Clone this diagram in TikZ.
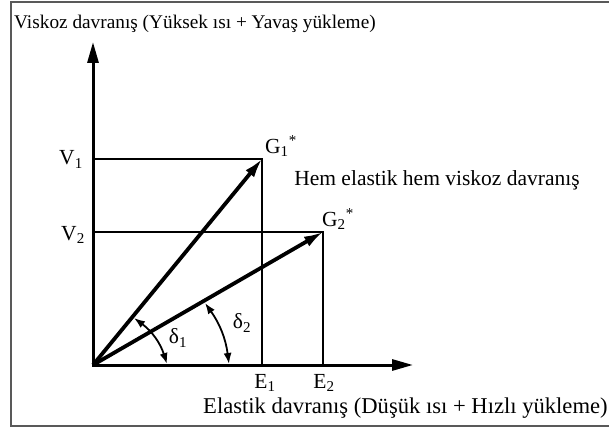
\documentclass[tikz,border=0pt]{standalone}
\usepackage{fontspec}
\setmainfont{Liberation Serif}
\usetikzlibrary{arrows.meta,positioning}

\begin{document}
\begin{tikzpicture}[x=1pt, y=-1pt, every node/.style={inner sep=0pt},
        font=\fontsize{21.5}{24}\selectfont]
        \tikzset{
            frame/.style={draw=black!65, line width=1.8pt},
            axis/.style={-{Triangle[length=21pt,width=11pt]}, line width=3pt},
            vec/.style={-{Latex[length=20pt,width=11pt]}, line width=3.8pt, shorten >=-1pt},
            guide/.style={line width=2.6pt},
            angarr/.style={{Latex[length=11pt,width=8pt]}-{Latex[length=11pt,width=8pt]}, line width=1.8pt}
        }
        \useasboundingbox (0,0) rectangle (609,430);
        \draw[frame] (11,2) rectangle (613,426);

        % Points
        \coordinate (O) at (93,365);
        \coordinate (ytop) at (93,42);
        \coordinate (xend) at (413,365);
        \coordinate (G1) at (262,159);
        \coordinate (G2) at (323,232);
        \coordinate (V1) at (93,159);
        \coordinate (V2) at (93,232);
        \coordinate (E1) at (262,365);
        \coordinate (E2) at (323,365);

        % Axes
        \draw[axis] (O) -- (ytop);
        \draw[axis] ([xshift=-1pt]O) -- (xend);

        % Component lines
        \draw[guide] (V1) -- (G1) -- (E1);
        \draw[guide] (V2) -- (G2) -- (E2);

        % Vectors
        \draw[vec] (O) -- (G1);
        \draw[vec] (O) -- (G2);

        % Angles
        \coordinate (d1a) at (167,364);
        \coordinate (d1b) at (134,318);
        \coordinate (d2a) at (229,364);
        \coordinate (d2b) at (205,303);
        \draw[angarr] (d1a) to[bend right=18] (d1b);
        \draw[angarr] (d2a) to[bend right=14] (d2b);

        % Labels
        \node[anchor=base west, font=\fontsize{19.3}{22}\selectfont] (ttop) at (14,29) {Viskoz davranış (Yüksek ısı + Yavaş yükleme)};
        \node[anchor=base west, font=\fontsize{22.6}{25}\selectfont] (tbot) at (203,413) {Elastik davranış (Düşük ısı + Hızlı yükleme)};
        \node (both) at (437,180) {Hem elastik hem viskoz davranış};
        \node[anchor=base east] (lv1) at (83,165) {V\textsubscript{1}};
        \node[anchor=base east] (lv2) at (85,240) {V\textsubscript{2}};
        \node[anchor=base] (le1) at (265,388) {E\textsubscript{1}};
        \node[anchor=base] (le2) at (324,388) {E\textsubscript{2}};
        \node (lg1) at (281,146) {G\textsubscript{1}\textsuperscript{*}};
        \node (lg2) at (338,219) {G\textsubscript{2}\textsuperscript{*}};
        \node (ld1) at (178,338) {δ\textsubscript{1}};
        \node (ld2) at (242,323) {δ\textsubscript{2}};
\end{tikzpicture}
\end{document}
